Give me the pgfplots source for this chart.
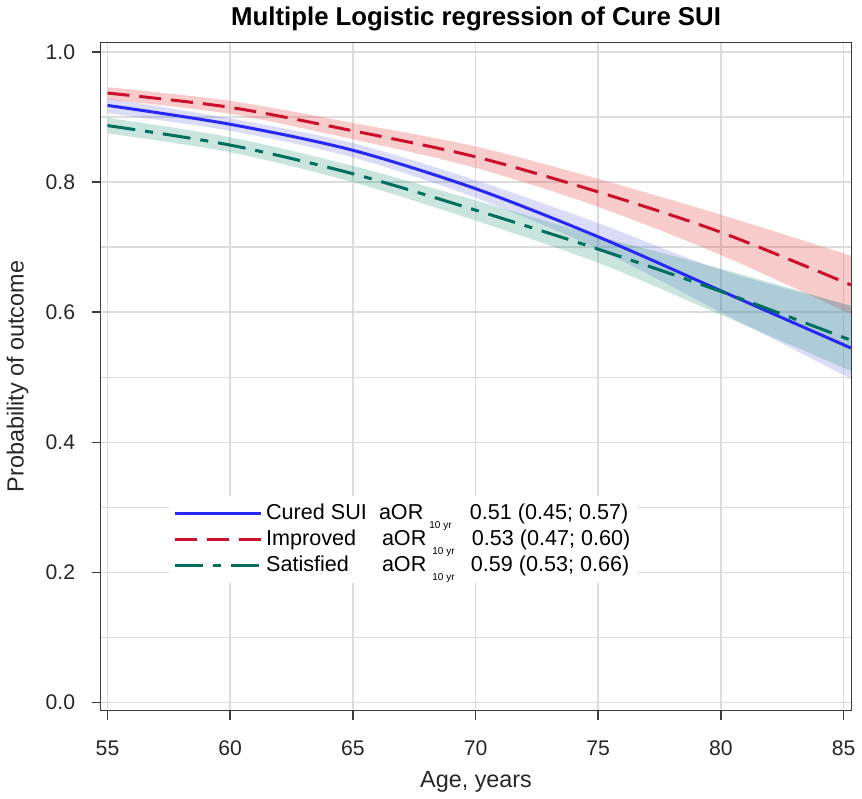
\documentclass[border=0pt]{standalone}
\usepackage{pgfplots}
\pgfplotsset{compat=1.18}
\usepackage{pgfplotstable}
\usepgfplotslibrary{fillbetween}
\usepackage{fontspec}
\setmainfont{Liberation Sans}
\definecolor{cblue}{RGB}{40,40,245}
\definecolor{cred}{RGB}{204,16,44}
\definecolor{cgreen}{RGB}{0,110,92}
\definecolor{fblue}{RGB}{110,120,225}
\definecolor{fred}{RGB}{235,85,85}
\definecolor{fgreen}{RGB}{40,150,125}
\definecolor{gridc}{RGB}{220,220,220}
\definecolor{framec}{RGB}{60,60,60}

\pgfplotstableread{
age  cur   clo   chi   imp   ilo   ihi   sat   slo   shi
55   0.918 0.906 0.929 0.937 0.927 0.946 0.887 0.875 0.899
60   0.889 0.879 0.898 0.915 0.905 0.925 0.857 0.846 0.869
65   0.849 0.838 0.860 0.879 0.866 0.891 0.813 0.800 0.825
70   0.790 0.776 0.803 0.839 0.822 0.855 0.757 0.741 0.772
75   0.716 0.697 0.737 0.785 0.762 0.805 0.697 0.676 0.717
80   0.633 0.600 0.665 0.723 0.688 0.750 0.632 0.596 0.667
85.3 0.545 0.498 0.610 0.642 0.597 0.687 0.557 0.510 0.610
}\datatab

\begin{document}
\begin{tikzpicture}
\begin{axis}[
  scale only axis, width=376pt, height=334.5pt,
  xmin=54.715, xmax=85.33, ymin=-0.0123, ymax=1.015,
  xtick={55,60,65,70,75,80,85},
  ytick={0,0.2,0.4,0.6,0.8,1.0},
  minor ytick={0.1,0.3,0.5,0.7,0.9},
  grid=both,
  major grid style={gridc, line width=0.8pt},
  minor grid style={gridc, line width=0.8pt},
  axis line style={framec, line width=0.8pt},
  tick style={framec, line width=0.8pt},
  tick align=outside, tick pos=left,
  major tick length=4.5pt, minor tick length=0pt,
  /pgf/number format/assume math mode=true,
  yticklabel style={/pgf/number format/fixed, /pgf/number format/fixed zerofill, /pgf/number format/precision=1,
    anchor=east, inner sep=0pt, xshift=-8pt},
  xticklabel style={anchor=base, yshift=-18pt},
  tick label style={font=\fontsize{10.6}{12}\selectfont, text=black!85},
  xlabel={Age, years},
  ylabel={Probability of outcome},
  label style={font=\fontsize{11.7}{14}\selectfont, text=black!85},
  xlabel style={at={(axis description cs:0.5,0)}, anchor=base, yshift=-38.5pt},
  ylabel style={at={(axis description cs:-0.1024,0.5)}, anchor=base},
  title={\textbf{Multiple Logistic regression of Cure SUI}},
  title style={font=\fontsize{12.9}{14}\selectfont, at={(axis description cs:0.5,1)}, anchor=base, yshift=2.5pt},
  legend style={at={(axis description cs:0.091,0.322)}, anchor=north west, fill=white, draw=none,
    font=\fontsize{10.8}{12}\selectfont, row sep=-0.25pt, inner sep=2pt},
  legend cell align=left,
  legend image code/.code={\draw[#1] (0pt,0pt) -- (43pt,0pt);},
]
\addplot[name path=cu, draw=none, smooth, forget plot] table[x=age, y=chi]{\datatab};
\addplot[name path=cl, draw=none, smooth, forget plot] table[x=age, y=clo]{\datatab};
\addplot[fblue, fill opacity=0.25, draw=none, forget plot] fill between[of=cu and cl];
\addplot[name path=iu, draw=none, smooth, forget plot] table[x=age, y=ihi]{\datatab};
\addplot[name path=il, draw=none, smooth, forget plot] table[x=age, y=ilo]{\datatab};
\addplot[fred, fill opacity=0.3, draw=none, forget plot] fill between[of=iu and il];
\addplot[name path=su, draw=none, smooth, forget plot] table[x=age, y=shi]{\datatab};
\addplot[name path=sl, draw=none, smooth, forget plot] table[x=age, y=slo]{\datatab};
\addplot[fgreen, fill opacity=0.25, draw=none, forget plot] fill between[of=su and sl];

\addplot[cblue, line width=1.5pt, smooth] table[x=age, y=cur]{\datatab};
\addplot[cred, line width=1.5pt, smooth, dash pattern=on 11pt off 5pt] table[x=age, y=imp]{\datatab};
\addplot[cgreen, line width=1.5pt, smooth, dash pattern=on 14pt off 5pt on 4pt off 5pt] table[x=age, y=sat]{\datatab};
\legend{
  \makebox[56.5pt][l]{Cured SUI}\makebox[45.5pt][l]{aOR\hspace{3pt}\raisebox{-4.5pt}{\fontsize{5}{5}\selectfont 10 yr}}0.51 (0.45; 0.57),
  \makebox[58pt][l]{Improved}\makebox[45pt][l]{aOR\hspace{3pt}\raisebox{-4.5pt}{\fontsize{5}{5}\selectfont 10 yr}}0.53 (0.47; 0.60),
  \makebox[58pt][l]{Satisfied}\makebox[44.5pt][l]{aOR\hspace{3pt}\raisebox{-4.5pt}{\fontsize{5}{5}\selectfont 10 yr}}0.59 (0.53; 0.66)
}
\end{axis}
\path (current axis.north east) ++(3pt,0pt);
\end{tikzpicture}
\end{document}
